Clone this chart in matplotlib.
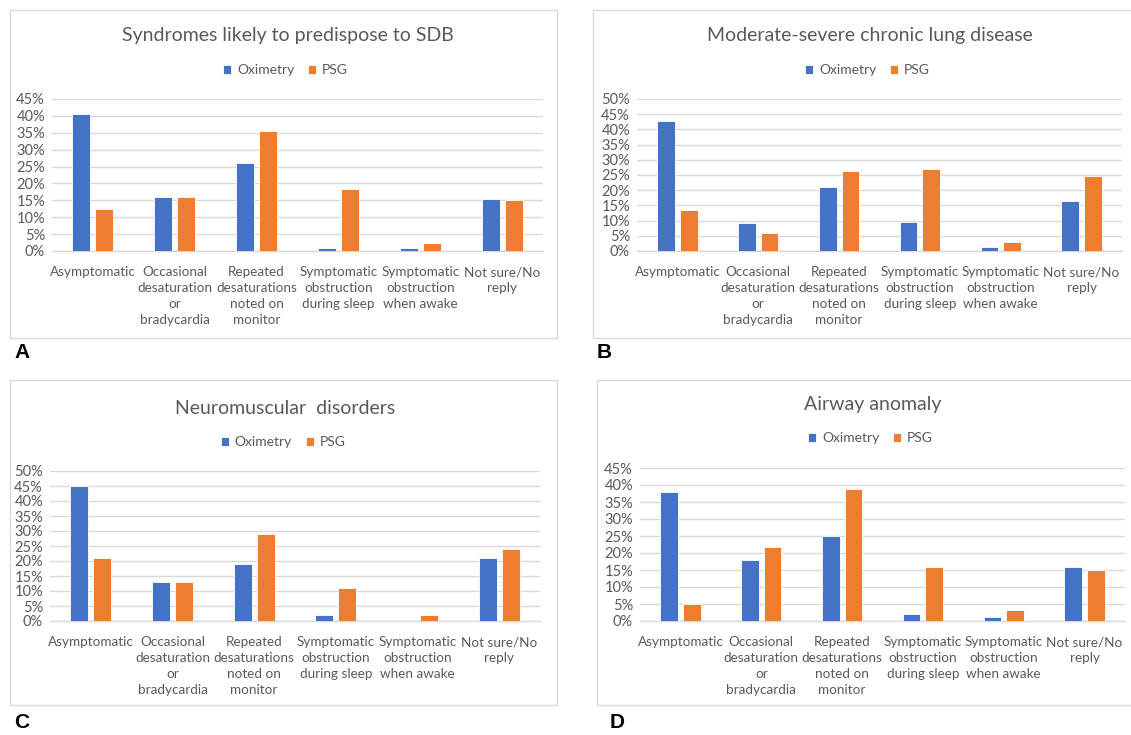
import matplotlib
matplotlib.use("Agg")
import matplotlib.pyplot as plt
from matplotlib.patches import Rectangle
from matplotlib.ticker import PercentFormatter, MultipleLocator
import numpy as np

plt.rcParams['font.family'] = ['Lato', 'DejaVu Sans']

categories = [
    "Asymptomatic",
    "Occasional\ndesaturation\nor\nbradycardia",
    "Repeated\ndesaturations\nnoted on\nmonitor",
    "Symptomatic\nobstruction\nduring sleep",
    "Symptomatic\nobstruction\nwhen awake",
    "Not sure/No\nreply",
]
series_names = ["Oximetry", "PSG"]

titles = [
    "Syndromes likely to predispose to SDB",
    "Moderate-severe chronic lung disease",
    "Neuromuscular  disorders",
    "Airway anomaly",
]
panel_letters = ["A", "B", "C", "D"]

# Percent of respondents per category
oximetry_a = [40.5, 16.0, 26.0, 1.0, 1.0, 15.5]
psg_a = [12.5, 16.0, 35.5, 18.5, 2.5, 15.0]

oximetry_b = [42.7, 9.2, 21.0, 9.5, 1.3, 16.6]
psg_b = [13.6, 5.8, 26.3, 27.1, 2.8, 24.8]

oximetry_c = [45.0, 13.1, 19.0, 2.0, 0.0, 20.9]
psg_c = [20.9, 13.1, 28.9, 10.9, 2.0, 23.9]

oximetry_d = [37.8, 17.9, 25.0, 2.2, 1.1, 15.9]
psg_d = [5.1, 21.9, 38.8, 15.9, 3.1, 14.9]

y_max = [45, 50, 50, 45]

W, H = 1131, 735
fig = plt.figure(figsize=(W / 100, H / 100), dpi=100)
fig.patch.set_facecolor("white")

BLUE = "#4472C4"
ORANGE = "#ED7D31"
TEXT = "#595959"
GRID = "#D9D9D9"


def fx(x):
    return x / W


def fy(y):
    return 1 - y / H


# pixel layout of each panel: box (l, t, r, b), plot (l, r, top, bottom), title y, legend y, letter (x, y)
panels = [
    dict(box=(10, 10, 557, 338), plot=(52, 543, 99, 251), title_y=35, legend_y=70, letter=(14, 353)),
    dict(box=(593, 10, 1140, 338), plot=(637, 1122, 99, 251), title_y=35, legend_y=70, letter=(597, 353)),
    dict(box=(10, 380, 557, 705), plot=(50, 540, 471, 621), title_y=408, legend_y=442, letter=(14, 722)),
    dict(box=(597, 380, 1140, 705), plot=(640, 1125, 468, 621), title_y=405, legend_y=438, letter=(610, 722)),
]

data = [
    (oximetry_a, psg_a),
    (oximetry_b, psg_b),
    (oximetry_c, psg_c),
    (oximetry_d, psg_d),
]

x = np.arange(len(categories))
bar_w = 0.22
offset = 0.14

for i, p in enumerate(panels):
    bl, bt, br, bb = p["box"]
    frame = Rectangle((fx(bl), fy(bb)), fx(br) - fx(bl), fy(bt) - fy(bb),
                      transform=fig.transFigure, facecolor="white",
                      edgecolor=GRID, linewidth=1.0, zorder=-5)
    fig.patches.append(frame)
    pl, pr, pt, pb = p["plot"]
    ax = fig.add_axes([fx(pl), fy(pb), fx(pr) - fx(pl), fy(pt) - fy(pb)])
    ax.set_zorder(2)
    ax.set_facecolor("none")
    ox, ps = data[i]
    b1 = ax.bar(x - offset, ox, width=bar_w, color=BLUE, edgecolor="white", linewidth=0.6,
                label=series_names[0], zorder=3)
    b2 = ax.bar(x + offset, ps, width=bar_w, color=ORANGE, edgecolor="white", linewidth=0.6,
                label=series_names[1], zorder=3)
    ax.set_ylim(0, y_max[i])
    ax.set_xlim(-0.5, len(categories) - 0.5)
    ax.yaxis.set_major_locator(MultipleLocator(5))
    ax.yaxis.set_major_formatter(PercentFormatter(decimals=0))
    ax.grid(axis="y", color=GRID, linewidth=1.0, zorder=0)
    ax.set_axisbelow(True)
    for s in ["top", "right", "left"]:
        ax.spines[s].set_visible(False)
    ax.spines["bottom"].set_color(GRID)
    ax.spines["bottom"].set_linewidth(1.0)
    ax.set_xticks(x)
    ax.set_xticklabels(categories, fontsize=9.7, color=TEXT, linespacing=1.4, va="top")
    ax.tick_params(axis="x", length=0, pad=11)
    ax.tick_params(axis="y", length=0, pad=5, labelsize=10.5, labelcolor=TEXT)

    fig.text(fx((pl + pr) / 2 - 10), fy(p["title_y"]), titles[i], ha="center", va="center",
             fontsize=14, color=TEXT)
    fig.legend(handles=[b1, b2], labels=series_names, loc="center",
               bbox_to_anchor=(fx((pl + pr) / 2 - 12), fy(p["legend_y"])),
               ncol=2, frameon=False, fontsize=10, labelcolor=TEXT,
               handlelength=0.6, handleheight=0.6, handletextpad=0.4, columnspacing=1.0)
    lx, ly = p["letter"]
    fig.text(fx(lx), fy(ly), panel_letters[i], ha="left", va="center",
             fontsize=15, fontweight="bold", color="black", family="Liberation Sans")

fig.savefig("out.png", dpi=100, facecolor="white")
